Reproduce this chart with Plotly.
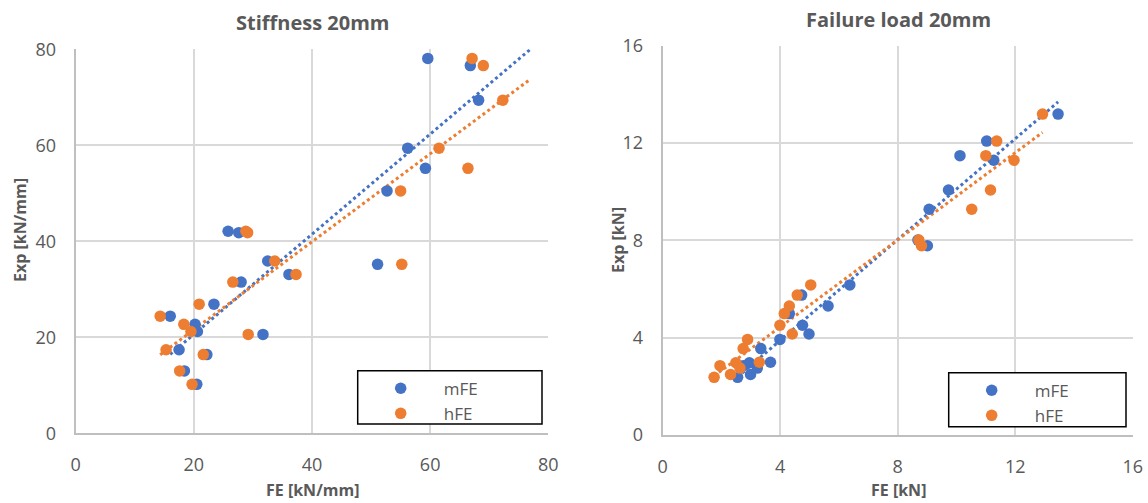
import numpy as np
import plotly.graph_objects as go

# ---------------- data ----------------
stiff_exp = [78.1, 76.6, 69.4, 59.4, 55.2, 50.5, 35.2, 42.1, 41.8, 35.9, 33.1,
             31.5, 26.9, 24.4, 22.7, 21.2, 20.6, 17.4, 16.4, 13.0, 10.2]
stiff_mfe = [59.6, 66.8, 68.2, 56.2, 59.2, 52.7, 51.1, 25.8, 27.6, 32.5, 36.1,
             28.0, 23.4, 16.0, 20.2, 20.6, 31.7, 17.5, 22.2, 18.4, 20.5]
stiff_hfe = [67.1, 69.0, 72.3, 61.5, 66.4, 55.0, 55.2, 28.8, 29.1, 33.7, 37.3,
             26.6, 20.9, 14.3, 18.3, 19.5, 29.2, 15.3, 21.6, 17.6, 19.7]

fail_exp = [13.19, 12.08, 11.48, 11.29, 10.07, 9.28, 8.01, 7.78, 6.17, 5.75, 5.30,
            4.99, 4.51, 4.15, 3.93, 3.55, 2.99, 2.97, 2.85, 2.75, 2.49, 2.37]
fail_mfe = [13.46, 11.03, 10.12, 11.27, 9.73, 9.07, 8.69, 9.01, 6.37, 4.73, 5.63,
            4.31, 4.76, 4.98, 3.99, 3.34, 3.67, 2.95, 2.74, 3.22, 2.99, 2.55]
fail_hfe = [12.93, 11.37, 11.00, 11.96, 11.16, 10.52, 8.72, 8.81, 5.04, 4.58, 4.31,
            4.14, 3.99, 4.41, 2.89, 2.74, 3.29, 2.49, 1.95, 2.63, 2.31, 1.75]

series_names = ["mFE", "hFE"]
stiff_ticks = [0, 20, 40, 60, 80]
fail_ticks = [0, 4, 8, 12, 16]
stiff_forward = [12.0, 4.4]   # trendline forecast forward (Excel option) per series
fail_forward = [0.0, 0.0]

BLUE = "#4472C4"
ORANGE = "#ED7D31"
TXT = "#595959"
FONT = "Open Sans"

fig = go.Figure()


def trend(xs, ys, fwd):
    xs = np.asarray(xs, float)
    ys = np.asarray(ys, float)
    k, b = np.polyfit(xs, ys, 1)
    xx = np.linspace(xs.min(), xs.max() + fwd, 80)
    return xx, k * xx + b


panels = [
    ("x", "y", "legend", stiff_exp, [stiff_mfe, stiff_hfe], stiff_forward),
    ("x2", "y2", "legend2", fail_exp, [fail_mfe, fail_hfe], fail_forward),
]
for xa, ya, lg, ex, fes, fwds in panels:
    for name, fe, col, fwd in zip(series_names, fes, [BLUE, ORANGE], fwds):
        tx, ty = trend(fe, ex, fwd)
        fig.add_trace(go.Scatter(x=tx, y=ty, mode="lines", xaxis=xa, yaxis=ya,
                                 line=dict(color=col, width=3, dash="dot"),
                                 showlegend=False, hoverinfo="skip"))
    for name, fe, col in zip(series_names, fes, [BLUE, ORANGE]):
        fig.add_trace(go.Scatter(x=fe, y=ex, mode="markers", name=name,
                                 xaxis=xa, yaxis=ya, legend=lg,
                                 marker=dict(color=col, size=11.5,
                                             line=dict(width=0))))

W, H = 1148, 503


def px_x(p):
    return p / W


def px_y(p):
    return 1 - p / H


axis_common = dict(showgrid=True, gridcolor="#D9D9D9", gridwidth=1.5,
                   zeroline=False, showline=True, linecolor="#BFBFBF",
                   linewidth=2, ticks="", mirror=False,
                   tickfont=dict(family=FONT, size=18, color=TXT))

legend_common = dict(xanchor="left", yanchor="top",
                     bgcolor="rgba(0,0,0,0)", borderwidth=0,
                     font=dict(family=FONT, size=17, color=TXT),
                     itemwidth=76)

fig.update_layout(
    width=W, height=H,
    margin=dict(l=0, r=0, t=0, b=0, autoexpand=False),
    paper_bgcolor="white", plot_bgcolor="white",
    font=dict(family=FONT, color=TXT),
    xaxis=dict(domain=[px_x(75.7), px_x(548.3)], range=[0, 80],
               tickvals=stiff_ticks, anchor="y", ticklabelstandoff=14,
               **axis_common),
    yaxis=dict(domain=[px_y(433.3), px_y(49.3)], range=[0, 80],
               tickvals=stiff_ticks, anchor="x", ticklabelstandoff=14,
               **axis_common),
    xaxis2=dict(domain=[px_x(662.7), px_x(1132.7)], range=[0, 16],
                tickvals=fail_ticks, anchor="y2", ticklabelstandoff=14,
                **axis_common),
    yaxis2=dict(domain=[px_y(435), px_y(45.7)], range=[0, 16],
                tickvals=fail_ticks, anchor="x2", ticklabelstandoff=14,
                **axis_common),
    legend=dict(x=px_x(357.7), y=px_y(370.7), **legend_common),
    legend2=dict(x=px_x(948.7), y=px_y(372.7), **legend_common),
)

# legend frames
for x0, y0, x1, y1 in [(357.7, 370.7, 542, 424), (948.7, 372.7, 1126, 426.7)]:
    fig.add_shape(type="rect", xref="paper", yref="paper",
                  x0=px_x(x0), x1=px_x(x1), y0=px_y(y1), y1=px_y(y0),
                  line=dict(color="black", width=1.5), fillcolor="white",
                  layer="above")

annots = [
    ("Stiffness 20mm", 312, 22, 0, 20),
    ("Failure load 20mm", 898, 20, 0, 20),
    ("FE [kN/mm]", 312, 490, 0, 16),
    ("FE [kN]", 898, 490, 0, 16),
    ("Exp [kN/mm]", 20, 230, -90, 16),
    ("Exp [kN]", 618, 240, -90, 16),
]
for text, x, y, ang, sz in annots:
    fig.add_annotation(text="<b>%s</b>" % text, xref="paper", yref="paper",
                       x=px_x(x), y=px_y(y), xanchor="center", yanchor="middle",
                       showarrow=False, textangle=ang,
                       font=dict(family=FONT, size=sz, color=TXT))

fig.write_html("out.html")
